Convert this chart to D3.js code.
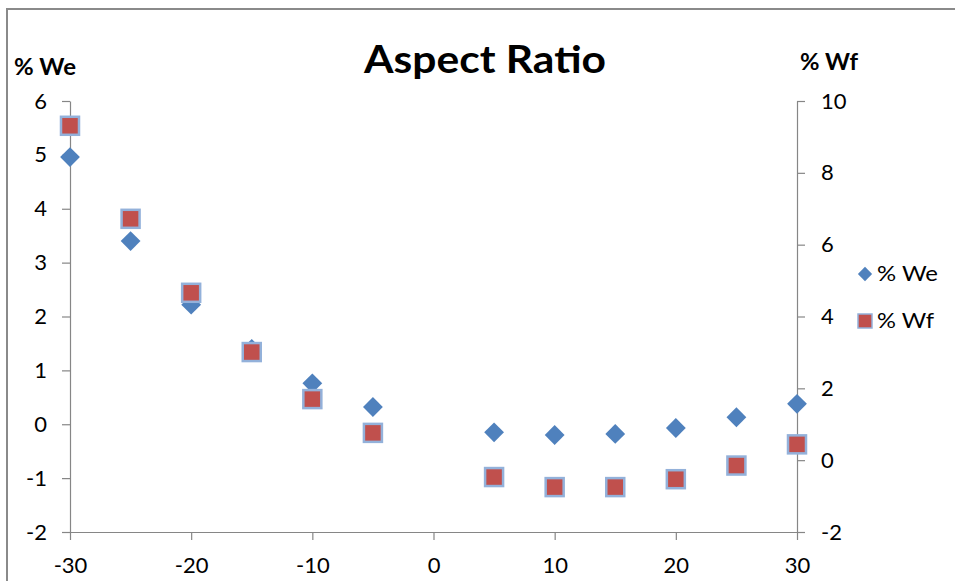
<!DOCTYPE html>
<html>
<head>
<meta charset="utf-8">
<script src="https://cdn.jsdelivr.net/npm/d3@7"></script>
<style>
  html, body { margin: 0; padding: 0; background: #fff; }
  svg { display: block; }
  text { font-family: Lato, "Open Sans", sans-serif; fill: #000; }
</style>
</head>
<body>
<svg id="chart" width="955" height="581"></svg>
<script>
// Offset angle (deg) for each measurement
const angles = [-30, -25, -20, -15, -10, -5, 5, 10, 15, 20, 25, 30];
// Percent change of We (left axis)
const weValues = [4.96, 3.40, 2.22, 1.40, 0.76, 0.32, -0.15, -0.20, -0.18, -0.07, 0.13, 0.38];
// Percent change of Wf (right axis)
const wfValues = [9.31, 6.72, 4.66, 3.01, 1.70, 0.76, -0.47, -0.75, -0.75, -0.53, -0.15, 0.44];

const xTicks = [-30, -20, -10, 0, 10, 20, 30];
const leftTicks = [-2, -1, 0, 1, 2, 3, 4, 5, 6];
const rightTicks = [-2, 0, 2, 4, 6, 8, 10];

const svg = d3.select("#chart");

// outer chart frame
svg.append("rect")
  .attr("x", 7).attr("y", 9)
  .attr("width", 960).attr("height", 590)
  .attr("fill", "none")
  .attr("stroke", "#8a8a8a")
  .attr("stroke-width", 2);

const x = d3.scaleLinear().domain([-30, 30]).range([70, 797]);
const yL = d3.scaleLinear().domain([-2, 6]).range([532, 101]);
const yR = d3.scaleLinear().domain([-2, 10]).range([532, 101]);

const axisColor = "#868686";
const plain = d => String(d); // hyphen-minus labels

function styleAxis(g) {
  g.selectAll("path.domain").attr("stroke", axisColor).attr("stroke-width", 1.2);
  g.selectAll(".tick line").attr("stroke", axisColor).attr("stroke-width", 1.2);
  g.selectAll(".tick text")
    .attr("fill", "#000")
    .style("font-family", "Lato, 'Open Sans', sans-serif")
    .style("font-size", "22px");
}

svg.append("g")
  .attr("transform", `translate(0,${yL(-2)})`)
  .call(d3.axisBottom(x).tickValues(xTicks).tickFormat(plain)
    .tickSize(8).tickSizeOuter(0).tickPadding(17))
  .call(styleAxis);

svg.append("g")
  .attr("transform", `translate(${x(-30)},0)`)
  .call(d3.axisLeft(yL).tickValues(leftTicks).tickFormat(plain)
    .tickSize(8).tickSizeOuter(0).tickPadding(15))
  .call(styleAxis);

svg.append("g")
  .attr("transform", `translate(${x(30)},0)`)
  .call(d3.axisRight(yR).tickValues(rightTicks).tickFormat(plain)
    .tickSize(8).tickSizeOuter(0).tickPadding(16))
  .call(styleAxis);

// titles
svg.append("text")
  .attr("x", 485).attr("y", 73)
  .attr("text-anchor", "middle")
  .attr("textLength", 242)
  .attr("lengthAdjust", "spacingAndGlyphs")
  .style("font-size", "38px").style("font-weight", "bold")
  .text("Aspect Ratio");

svg.append("text")
  .attr("x", 14).attr("y", 75)
  .attr("textLength", 62)
  .attr("lengthAdjust", "spacingAndGlyphs")
  .style("font-size", "22px").style("font-weight", "bold")
  .text("% We");

svg.append("text")
  .attr("x", 800).attr("y", 70)
  .attr("textLength", 58)
  .attr("lengthAdjust", "spacingAndGlyphs")
  .style("font-size", "22px").style("font-weight", "bold")
  .text("% Wf");

const blue = "#4F81BD";
const red = "#C0504D";
const edge = "#93B1DA";

const diamond = d3.symbol().type(d3.symbolDiamond2);

// We series: diamonds on the left axis
svg.append("g").selectAll("path")
  .data(angles.map((a, i) => [a, weValues[i]]))
  .join("path")
  .attr("transform", d => `translate(${x(d[0])},${yL(d[1])})`)
  .attr("d", diamond.size(250)())
  .attr("fill", blue);

// Wf series: squares on the right axis
const sq = 18;
svg.append("g").selectAll("rect")
  .data(angles.map((a, i) => [a, wfValues[i]]))
  .join("rect")
  .attr("x", d => x(d[0]) - sq / 2)
  .attr("y", d => yR(d[1]) - sq / 2)
  .attr("width", sq).attr("height", sq)
  .attr("fill", red)
  .attr("stroke", edge)
  .attr("stroke-width", 2.5);

// legend
const legend = svg.append("g");
legend.append("path")
  .attr("transform", "translate(865,274)")
  .attr("d", diamond.size(130)())
  .attr("fill", blue);
legend.append("text")
  .attr("x", 877).attr("y", 281)
  .attr("textLength", 61)
  .attr("lengthAdjust", "spacingAndGlyphs")
  .style("font-size", "22px")
  .text("% We");
legend.append("rect")
  .attr("x", 858).attr("y", 314)
  .attr("width", 14).attr("height", 14)
  .attr("fill", red)
  .attr("stroke", edge)
  .attr("stroke-width", 1.5);
legend.append("text")
  .attr("x", 877).attr("y", 328)
  .attr("textLength", 57)
  .attr("lengthAdjust", "spacingAndGlyphs")
  .style("font-size", "22px")
  .text("% Wf");
</script>
</body>
</html>
